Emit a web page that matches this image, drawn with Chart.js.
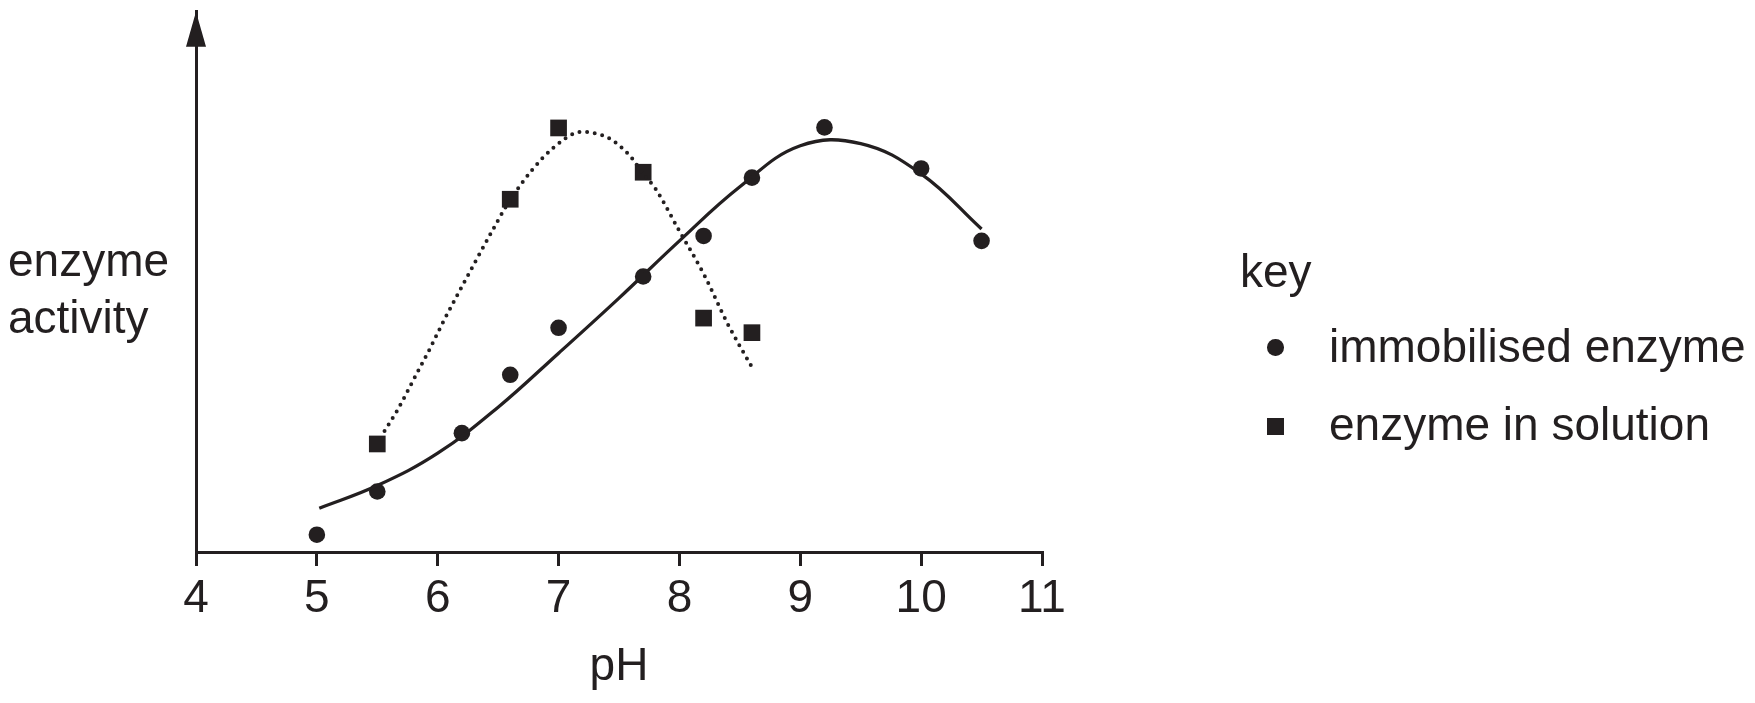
<!DOCTYPE html>
<html>
<head>
<meta charset="utf-8">
<script src="https://cdn.jsdelivr.net/npm/chart.js@4/dist/chart.umd.min.js"></script>
<style>
    body { margin: 0; background: #fff; }
    #wrap { position: relative; width: 1755px; height: 703px; font-family: 'Liberation Sans', Arial, sans-serif; color: #231f20; }
    #wrap canvas { position: absolute; left: 0; top: 0; }
    .txt { position: absolute; font-size: 46px; line-height: 50px; white-space: nowrap; }
    .dot { position: absolute; width: 16.5px; height: 16.5px; background: #231f20; }
</style>
</head>
<body>
<div id="wrap">
    <canvas id="myChart" width="1755" height="703"></canvas>
    <div class="txt" style="left:8px; top:232px; line-height:57px;">enzyme<br>activity</div>
    <div class="txt" style="left:1240px; top:246px;">key</div>
    <div class="dot" style="left:1267px; top:339px; border-radius:50%;"></div>
    <div class="txt" style="left:1329px; top:321px;">immobilised enzyme</div>
    <div class="dot" style="left:1267px; top:418px;"></div>
    <div class="txt" style="left:1329px; top:399px;">enzyme in solution</div>
</div>
<script>
    // measured points
    const phImmobilised = [5.0, 5.5, 6.2, 6.6, 7.0, 7.7, 8.2, 8.6, 9.2, 10.0, 10.5];
    const activityImmobilised = [3.2, 11.2, 22.0, 32.8, 41.5, 51.0, 58.5, 69.3, 78.6, 71.0, 57.6];
    const phSolution = [5.5, 6.6, 7.0, 7.7, 8.2, 8.6];
    const activitySolution = [20.0, 65.3, 78.5, 70.3, 43.3, 40.6];

    // hand drawn curves of best fit
    const phCurveImmobilised = [5.02, 5.5, 6.0, 6.5, 7.0, 7.5, 8.0, 8.5, 9.0, 9.5, 10.0, 10.5];
    const activityCurveImmobilised = [8.1, 12.3, 18.3, 26.8, 36.8, 47.0, 57.6, 67.6, 75.2, 75.6, 70.0, 59.8];
    const phCurveSolution = [5.56, 5.67, 5.8, 5.93, 6.05, 6.18, 6.31, 6.44, 6.58, 6.78, 6.96, 7.14, 7.21, 7.3, 7.4, 7.51, 7.61, 7.7, 7.8, 8.0, 8.2, 8.4, 8.6];
    const activityCurveSolution = [22.4, 26.4, 31.9, 37.4, 42.8, 48.3, 53.7, 59.0, 64.5, 70.7, 74.9, 77.6, 77.8, 77.5, 76.8, 75.1, 72.8, 70.0, 67.3, 59.4, 51.5, 42.2, 34.2];

    const phTicks = [4, 5, 6, 7, 8, 9, 10, 11];

    const ink = '#231f20';
    const toXY = (xs, ys) => xs.map((x, i) => ({ x: x, y: ys[i] }));

    Chart.defaults.font.family = "'Liberation Sans', Arial, sans-serif";
    Chart.defaults.color = ink;

    const arrowHead = {
        id: 'arrow-head',
        afterDraw(chart) {
            const ctx = chart.ctx;
            const x = chart.chartArea.left;
            const top = chart.chartArea.top;
            ctx.save();
            ctx.fillStyle = ink;
            ctx.beginPath();
            ctx.moveTo(x, top);
            ctx.lineTo(x + 10, top + 35);
            ctx.lineTo(x - 10, top + 35);
            ctx.closePath();
            ctx.fill();
            ctx.restore();
        }
    };

    new Chart(document.getElementById('myChart'), {
        type: 'scatter',
        data: {
            datasets: [
                {
                    label: 'immobilised enzyme curve',
                    data: toXY(phCurveImmobilised, activityCurveImmobilised),
                    showLine: true,
                    borderColor: ink,
                    borderWidth: 3.3,
                    pointRadius: 0,
                    tension: 0.4
                },
                {
                    label: 'enzyme in solution curve',
                    data: toXY(phCurveSolution, activityCurveSolution),
                    showLine: true,
                    borderColor: ink,
                    borderWidth: 4,
                    borderDash: [0, 7.7],
                    borderCapStyle: 'round',
                    pointRadius: 0,
                    cubicInterpolationMode: 'monotone'
                },
                {
                    label: 'immobilised enzyme',
                    data: toXY(phImmobilised, activityImmobilised),
                    pointStyle: 'circle',
                    pointRadius: 8.3,
                    pointBorderWidth: 0,
                    backgroundColor: ink,
                    borderColor: ink
                },
                {
                    label: 'enzyme in solution',
                    data: toXY(phSolution, activitySolution),
                    pointStyle: 'rect',
                    pointRadius: 11.8,
                    pointBorderWidth: 0,
                    backgroundColor: ink,
                    borderColor: ink
                }
            ]
        },
        options: {
            responsive: false,
            animation: false,
            clip: false,
            layout: { padding: { left: 196, right: 713, top: 8, bottom: 0 } },
            plugins: {
                legend: { display: false },
                tooltip: { enabled: false }
            },
            scales: {
                x: {
                    type: 'linear',
                    min: 4,
                    max: 11,
                    afterFit: (s) => { s.height = 151; },
                    afterBuildTicks: (s) => { s.ticks = phTicks.map(v => ({ value: v })); },
                    ticks: {
                        padding: 6,
                        font: { size: 46 },
                        color: ink,
                        maxRotation: 0,
                        autoSkip: false
                    },
                    grid: {
                        drawOnChartArea: false,
                        drawTicks: true,
                        tickLength: 14,
                        lineWidth: 3,
                        color: ink
                    },
                    border: { display: true, color: ink, width: 3 },
                    title: {
                        display: true,
                        text: 'pH',
                        font: { size: 46 },
                        color: ink,
                        padding: { top: 0, bottom: 8 }
                    }
                },
                y: {
                    min: 0,
                    max: 100,
                    afterFit: (s) => { s.width = 0; },
                    ticks: { display: false },
                    grid: { drawOnChartArea: false, drawTicks: false },
                    border: { display: true, color: ink, width: 3 }
                }
            }
        },
        plugins: [arrowHead]
    });
</script>
</body>
</html>
